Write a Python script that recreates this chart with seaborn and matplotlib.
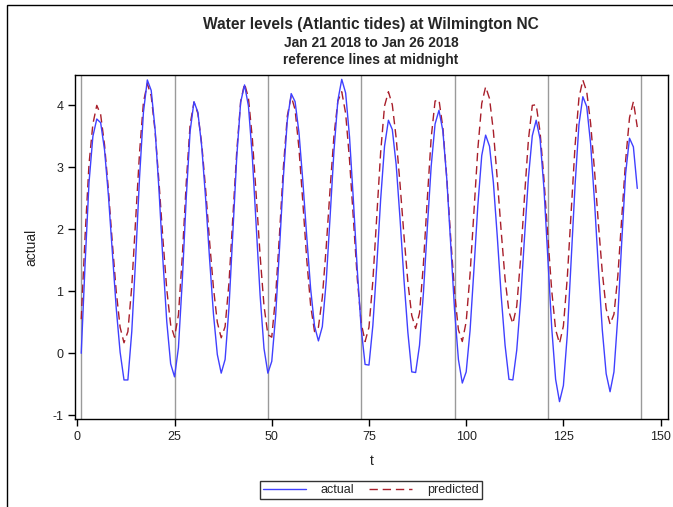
import numpy as np
import pandas as pd
import matplotlib
matplotlib.use("Agg")
import matplotlib.pyplot as plt
from matplotlib.patches import Rectangle
import seaborn as sns

# Hourly water levels, t = 1 is midnight Jan 21 2018
t = list(range(1, 145))

actual = [
    0.00, 1.45, 2.75, 3.50, 3.78, 3.72, 3.28, 2.54, 1.63, 0.73, 0.02, -0.43,
    -0.43, 0.35, 1.53, 2.84, 3.89, 4.41, 4.24, 3.61, 2.63, 1.51, 0.51, -0.17,
    -0.38, 0.09, 1.18, 2.50, 3.58, 4.06, 3.89, 3.33, 2.49, 1.53, 0.64, -0.02,
    -0.32, -0.10, 0.74, 1.94, 3.17, 4.05, 4.33, 3.99, 3.17, 2.07, 0.94, 0.08,
    -0.32, -0.13, 0.61, 1.70, 2.85, 3.76, 4.19, 4.06, 3.56, 2.77, 1.88, 1.04,
    0.44, 0.20, 0.43, 1.16, 2.20, 3.27, 4.08, 4.42, 4.20, 3.49, 2.46, 1.34,
    0.40, -0.18, -0.19, 0.45, 1.41, 2.48, 3.34, 3.76, 3.61, 3.04, 2.16, 1.19,
    0.34, -0.30, -0.31, 0.13, 0.97, 2.02, 3.02, 3.70, 3.92, 3.59, 2.82, 1.78,
    0.71, -0.10, -0.48, -0.30, 0.37, 1.36, 2.39, 3.19, 3.52, 3.34, 2.75, 1.88,
    0.93, 0.13, -0.42, -0.43, 0.05, 0.86, 1.87, 2.83, 3.51, 3.76, 3.46, 2.66,
    1.55, 0.41, -0.42, -0.78, -0.52, 0.30, 1.49, 2.71, 3.69, 4.14, 3.98, 3.38,
    2.45, 1.38, 0.38, -0.33, -0.62, -0.30, 0.60, 1.80, 2.90, 3.47, 3.33, 2.66,
]

predicted = [
    0.55, 1.90, 3.05, 3.70, 4.00, 3.85, 3.36, 2.63, 1.78, 1.00, 0.42, 0.17,
    0.35, 1.08, 2.15, 3.24, 4.05, 4.35, 4.15, 3.58, 2.76, 1.85, 1.03, 0.46,
    0.26, 0.62, 1.57, 2.74, 3.69, 4.05, 3.87, 3.37, 2.64, 1.81, 1.06, 0.50,
    0.25, 0.43, 1.14, 2.19, 3.26, 4.06, 4.35, 4.12, 3.47, 2.55, 1.58, 0.77,
    0.30, 0.26, 0.93, 1.93, 3.01, 3.83, 4.15, 3.93, 3.30, 2.43, 1.51, 0.77,
    0.35, 0.42, 0.90, 1.71, 2.65, 3.51, 4.07, 4.22, 3.87, 3.12, 2.15, 1.20,
    0.49, 0.19, 0.42, 1.17, 2.21, 3.24, 3.99, 4.22, 4.01, 3.47, 2.72, 1.90,
    1.15, 0.61, 0.40, 0.65, 1.44, 2.49, 3.48, 4.07, 4.09, 3.64, 2.84, 1.88,
    0.99, 0.38, 0.19, 0.51, 1.28, 2.30, 3.30, 4.03, 4.30, 4.11, 3.58, 2.81,
    1.97, 1.20, 0.67, 0.48, 0.76, 1.53, 2.53, 3.44, 4.00, 4.01, 3.57, 2.81,
    1.88, 1.01, 0.38, 0.16, 0.44, 1.22, 2.29, 3.35, 4.12, 4.41, 4.22, 3.71,
    2.95, 2.09, 1.31, 0.72, 0.47, 0.63, 1.25, 2.17, 3.11, 3.80, 4.06, 3.65,
]

midnights = [1, 25, 49, 73, 97, 121, 145]
x_ticks = [0, 25, 50, 75, 100, 125, 150]
y_ticks = [-1, 0, 1, 2, 3, 4]

df = pd.DataFrame({"t": t, "actual": actual, "predicted": predicted})

sns.set_theme(style="white")
plt.rcParams["font.family"] = ["Liberation Sans", "DejaVu Sans"]
plt.rcParams["axes.unicode_minus"] = False

W, H = 673, 507
fig = plt.figure(figsize=(W / 100, H / 100), dpi=100)
ax = fig.add_axes([75 / W, 1 - 419 / H, (668 - 75) / W, (419 - 75) / H])

for m in midnights:
    ax.axvline(m, color="#9a9a9a", lw=1.0, zorder=1)

sns.lineplot(data=df, x="t", y="actual", ax=ax, color="#4040ff", lw=1.0,
             label="actual", zorder=3)
sns.lineplot(data=df, x="t", y="predicted", ax=ax, color="#a81e2a", lw=1.0,
             label="predicted", zorder=2)
ax.lines[-1].set_dashes([6, 3.5])

ax.set_xlim(-0.6, 151.9)
ax.set_ylim(-1.06, 4.49)
ax.set_xticks(x_ticks)
ax.set_yticks(y_ticks)
ax.tick_params(axis="both", direction="out", length=5, width=1, color="black",
               labelsize=9, labelcolor="#222222", bottom=True, left=True)
for s in ax.spines.values():
    s.set_color("black")
    s.set_linewidth(1.0)
ax.set_xlabel("t", fontsize=10, color="#222222", labelpad=8)
ax.set_ylabel("actual", fontsize=10, color="#222222", labelpad=10)

ax.legend_.remove()
handles, labels = ax.get_legend_handles_labels()
leg = fig.legend(handles, labels, loc="center", bbox_to_anchor=(371 / W, 1 - 490 / H),
                 ncol=2, frameon=True, fancybox=False, edgecolor="black",
                 fontsize=9, handlelength=3.4, columnspacing=1.2, handletextpad=1.2,
                 borderpad=0.25)
leg.get_frame().set_linewidth(1.0)

fig.text(371 / W, 1 - 25 / H, "Water levels (Atlantic tides) at Wilmington NC",
         ha="center", va="center", fontsize=11.2, fontweight="bold")
fig.text(371 / W, 1 - 43 / H, "Jan 21 2018 to Jan 26 2018",
         ha="center", va="center", fontsize=9.9, fontweight="bold")
fig.text(371 / W, 1 - 60 / H, "reference lines at midnight",
         ha="center", va="center", fontsize=9.9, fontweight="bold")

fig.patches.append(Rectangle((7 / W, -0.05), 1.2, 1 - 5 / H + 0.05,
                             transform=fig.transFigure, fill=False,
                             edgecolor="black", lw=1.0))

fig.savefig("out.png", dpi=100)
